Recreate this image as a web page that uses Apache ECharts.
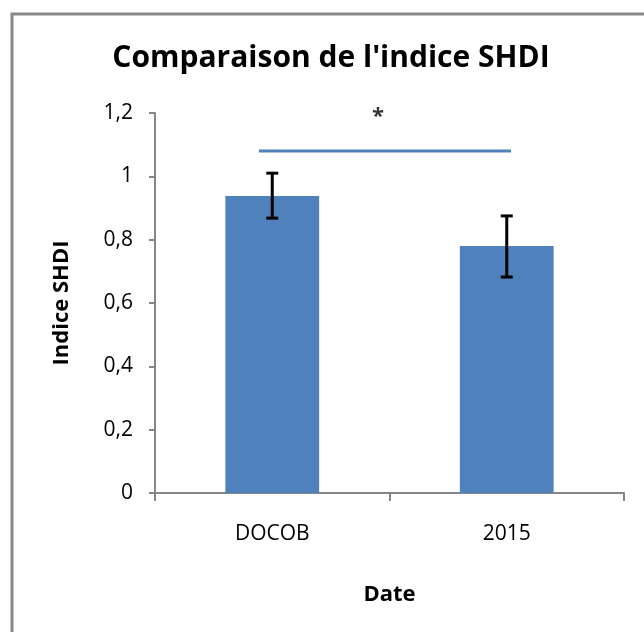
<!DOCTYPE html>
<html lang="fr">
<head>
<meta charset="UTF-8" />
<script src="https://cdn.jsdelivr.net/npm/echarts@6/dist/echarts.min.js"></script>
<style>
  body{margin:0;padding:0;background:#fff;}
  #chart{width:644px;height:632px;}
</style>
</head>
<body>
<div id="chart"></div>
<script>
// données
var categories = ['DOCOB', '2015'];
var shdi = [0.938, 0.78];
var errLow = [0.868, 0.682];
var errHigh = [1.01, 0.875];
var sigLine = [[0.443, 1.08], [1.518, 1.08]];
var sigStar = [[0.951, 1.2]];

var font = 'Open Sans';
var axisGray = '#868686';
var blue = '#4F81BD';

var chart = echarts.init(document.getElementById('chart'));
var option = {
  animation: false,
  graphic: [{
    type: 'rect',
    shape: {x: 12, y: 14, width: 700, height: 700},
    style: {fill: 'none', stroke: '#888888', lineWidth: 3},
    silent: true
  }],
  title: {
    text: "Comparaison de l'indice SHDI",
    left: 326, top: 38, textAlign: 'center',
    textStyle: {fontFamily: font, fontWeight: 'bold', fontSize: 30, color: '#000'}
  },
  grid: {left: 155, right: 20, top: 113, bottom: 139},
  xAxis: [{
    type: 'category',
    data: categories,
    name: 'Date',
    nameLocation: 'middle',
    nameGap: 91,
    nameTextStyle: {fontFamily: font, fontWeight: 'bold', fontSize: 22, color: '#000'},
    axisLine: {lineStyle: {color: axisGray, width: 2}},
    axisTick: {show: true, length: 8, lineStyle: {color: axisGray, width: 2}},
    axisLabel: {fontFamily: font, fontSize: 21, color: '#000', margin: 31}
  }, {
    type: 'value', min: 0, max: 2, show: false
  }],
  yAxis: {
    type: 'value',
    min: 0, max: 1.2, interval: 0.2,
    name: 'Indice SHDI',
    nameLocation: 'middle',
    nameGap: 82,
    nameTextStyle: {fontFamily: font, fontWeight: 'bold', fontSize: 22, color: '#000'},
    splitLine: {show: false},
    axisLine: {show: true, lineStyle: {color: axisGray, width: 2}},
    axisTick: {show: true, length: 6, lineStyle: {color: axisGray, width: 2}},
    axisLabel: {
      fontFamily: font, fontSize: 21, color: '#000', margin: 22,
      formatter: function (v) { return String(+v.toFixed(1)).replace('.', ','); }
    }
  },
  series: [{
    type: 'bar',
    data: shdi,
    barWidth: '40%',
    itemStyle: {color: blue},
    z: 2
  }, {
    type: 'custom',
    data: categories.map(function (c, i) { return [i, errLow[i], errHigh[i]]; }),
    renderItem: function (params, api) {
      var lo = api.coord([api.value(0), api.value(1)]);
      var hi = api.coord([api.value(0), api.value(2)]);
      var cap = 6;
      var st = {stroke: '#000', lineWidth: 3};
      return {
        type: 'group',
        children: [
          {type: 'line', shape: {x1: hi[0], y1: hi[1], x2: lo[0], y2: lo[1]}, style: st},
          {type: 'line', shape: {x1: hi[0] - cap, y1: hi[1], x2: hi[0] + cap, y2: hi[1]}, style: st},
          {type: 'line', shape: {x1: lo[0] - cap, y1: lo[1], x2: lo[0] + cap, y2: lo[1]}, style: st}
        ]
      };
    },
    z: 3
  }, {
    type: 'line',
    xAxisIndex: 1,
    data: sigLine,
    symbol: 'none',
    lineStyle: {color: blue, width: 3},
    z: 4
  }, {
    type: 'scatter',
    xAxisIndex: 1,
    data: sigStar,
    symbolSize: 0,
    clip: false,
    label: {
      show: true, position: 'inside', formatter: '*',
      fontFamily: font, fontWeight: 'bold', fontSize: 22, color: '#000', offset: [0, 4]
    },
    z: 5
  }]
};
chart.setOption(option);
</script>
</body>
</html>
